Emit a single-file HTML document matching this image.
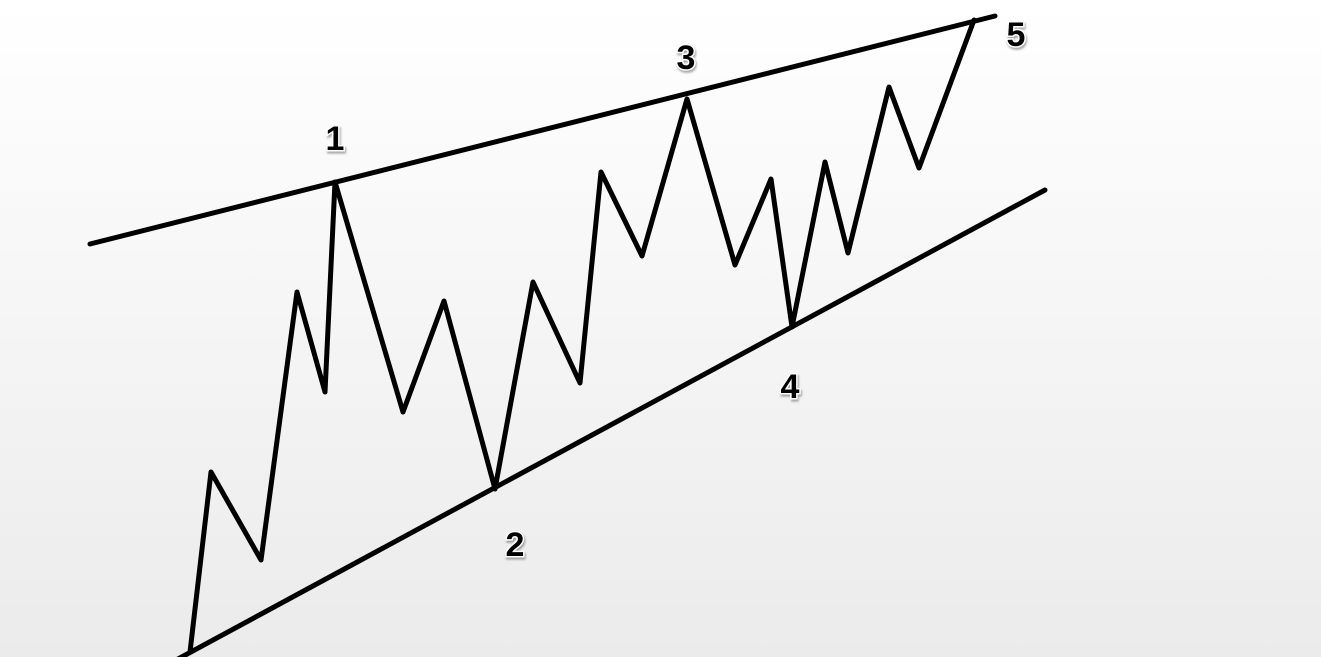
<!DOCTYPE html>
<html><head><meta charset="utf-8"><style>
html,body{margin:0;padding:0}
body{width:1321px;height:657px;overflow:hidden;background:linear-gradient(#ffffff,#ebebeb)}
svg{position:absolute;left:0;top:0}
text{font-family:"Liberation Sans",sans-serif;font-weight:bold;font-size:34px;fill:#000;stroke:#fff;stroke-width:3px;paint-order:stroke;text-anchor:middle;filter:drop-shadow(1px 2px 1px rgba(0,0,0,0.35))}
</style></head><body>
<svg width="1321" height="657" viewBox="0 0 1321 657">
<g stroke="#000" stroke-width="5" fill="none" stroke-linecap="round" stroke-linejoin="round">
<line x1="90" y1="244" x2="995" y2="16"/>
<line x1="178" y1="659" x2="1045" y2="190"/>
<polyline points="190,652 211,472 261,560 297,292 325,392 335,182 403,412 444,301 495,489 533,282 580,383 601,172 642,256 687,99 735,265 771,179 792,327 825,162 848,253 889,87 919,168 974,20"/>
</g>
<text x="335" y="150">1</text>
<text x="515" y="556">2</text>
<text x="686" y="69">3</text>
<text x="790" y="398">4</text>
<text x="1016" y="46">5</text>
</svg>
</body></html>
